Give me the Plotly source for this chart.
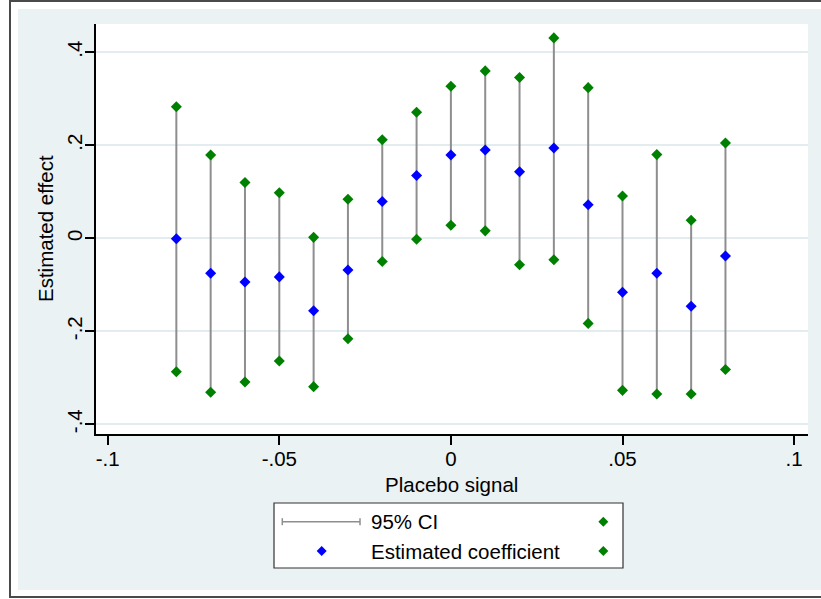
import plotly.graph_objects as go

# ---- data ----
placebo_signal = [-0.08, -0.07, -0.06, -0.05, -0.04, -0.03, -0.02, -0.01, 0.0,
                  0.01, 0.02, 0.03, 0.04, 0.05, 0.06, 0.07, 0.08]
estimated_coef = [-0.001, -0.075, -0.094, -0.083, -0.156, -0.068, 0.079, 0.135, 0.179,
                  0.190, 0.143, 0.194, 0.072, -0.116, -0.075, -0.146, -0.038]
ci_upper = [0.283, 0.179, 0.120, 0.098, 0.002, 0.084, 0.212, 0.271, 0.327,
            0.360, 0.346, 0.431, 0.324, 0.091, 0.180, 0.039, 0.205]
ci_lower = [-0.287, -0.331, -0.309, -0.264, -0.319, -0.216, -0.050, -0.002, 0.028,
            0.016, -0.057, -0.046, -0.183, -0.327, -0.335, -0.335, -0.282]

x_tick_vals = [-0.1, -0.05, 0.0, 0.05, 0.1]
x_tick_text = ["-.1", "-.05", "0", ".05", ".1"]
y_tick_vals = [-0.4, -0.2, 0.0, 0.2, 0.4]
y_tick_text = ["-.4", "-.2", "0", ".2", ".4"]

x_title = "Placebo signal"
y_title = "Estimated effect"
legend_labels = ["95% CI", "Estimated coefficient"]

# ---- styling ----
W, H = 821, 599
FONT = "Liberation Sans, Arial, sans-serif"
FS = 20.5
BG = "#EAF2F3"
GRID = "#E3ECEF"
CI_COLOR = "#8E8E8E"
GREEN = "#008000"
BLUE = "#0000FF"


def px(x):
    return x / W


def py(y):
    return 1 - y / H


# plot area in pixels
L, R, T, B = 95.7, 808, 24, 434

fig = go.Figure()

ci_x, ci_y = [], []
for xv, lo, hi in zip(placebo_signal, ci_lower, ci_upper):
    ci_x += [xv, xv, None]
    ci_y += [lo, hi, None]

fig.add_trace(go.Scatter(x=ci_x, y=ci_y, mode="lines",
                         line=dict(color=CI_COLOR, width=2),
                         hoverinfo="skip", showlegend=False))
fig.add_trace(go.Scatter(x=placebo_signal + placebo_signal, y=ci_upper + ci_lower,
                         mode="markers",
                         marker=dict(symbol="diamond", size=8.5, color=GREEN),
                         showlegend=False))
fig.add_trace(go.Scatter(x=placebo_signal, y=estimated_coef, mode="markers",
                         marker=dict(symbol="diamond", size=8.5, color=BLUE),
                         showlegend=False))

shapes = []
# outer frame
shapes.append(dict(type="rect", xref="paper", yref="paper", layer="below",
                   x0=px(10), x1=px(W + 5), y0=py(597), y1=py(1),
                   line=dict(color="#4a4a4a", width=2), fillcolor="white"))
# graph region
shapes.append(dict(type="rect", xref="paper", yref="paper", layer="below",
                   x0=px(18), x1=px(W + 5), y0=py(590), y1=py(9),
                   line=dict(width=0), fillcolor=BG))
# plot region
shapes.append(dict(type="rect", xref="paper", yref="paper", layer="below",
                   x0=px(L), x1=px(R), y0=py(B), y1=py(T),
                   line=dict(width=0), fillcolor="white"))
# legend box
shapes.append(dict(type="rect", xref="paper", yref="paper", layer="above",
                   x0=px(274), x1=px(623), y0=py(568), y1=py(503),
                   line=dict(color="#333333", width=1.2), fillcolor="white"))
# legend CI key
row1, row2 = 521.7, 551
shapes.append(dict(type="line", xref="paper", yref="paper",
                   x0=px(282.3), x1=px(360), y0=py(row1), y1=py(row1),
                   line=dict(color=CI_COLOR, width=1.5)))
for cx in (282.3, 360):
    shapes.append(dict(type="line", xref="paper", yref="paper",
                       x0=px(cx), x1=px(cx), y0=py(row1 - 3.5), y1=py(row1 + 3.5),
                       line=dict(color=CI_COLOR, width=1.5)))


def diamond(cx, cy, r, color):
    return dict(type="path", xref="paper", yref="paper",
                xsizemode="pixel", ysizemode="pixel",
                xanchor=px(cx), yanchor=py(cy),
                path=f"M 0,{r} L {r},0 L 0,{-r} L {-r},0 Z",
                fillcolor=color, line=dict(width=0))


shapes.append(diamond(603.3, row1, 5, GREEN))
shapes.append(diamond(603.3, row2, 5, GREEN))
shapes.append(diamond(321.7, row2, 5, BLUE))

annotations = [
    dict(text=x_title, x=px(451), y=py(484), xref="paper", yref="paper",
         showarrow=False, xanchor="center", yanchor="middle",
         font=dict(family=FONT, size=FS, color="black")),
    dict(text=y_title, x=px(45), y=py(229), xref="paper", yref="paper",
         showarrow=False, xanchor="center", yanchor="middle", textangle=-90,
         font=dict(family=FONT, size=FS, color="black")),
    dict(text=legend_labels[0], x=px(369), y=py(row1), xref="paper", yref="paper",
         showarrow=False, xanchor="left", yanchor="middle",
         font=dict(family=FONT, size=FS, color="black")),
    dict(text=legend_labels[1], x=px(369), y=py(row2), xref="paper", yref="paper",
         showarrow=False, xanchor="left", yanchor="middle",
         font=dict(family=FONT, size=FS, color="black")),
]

x_lo = -0.1 - (107.7 - L) / 3432
x_hi = 0.1 + (R - 794.1) / 3432
y_hi = (238.3 - T) / 465
y_lo = -(B - 238.3) / 465

fig.update_layout(
    width=W, height=H,
    margin=dict(l=0, r=0, t=0, b=0),
    paper_bgcolor="white",
    plot_bgcolor="rgba(0,0,0,0)",
    showlegend=False,
    font=dict(family=FONT, size=FS, color="black"),
    shapes=shapes,
    annotations=annotations,
    xaxis=dict(domain=[px(L), px(R)], range=[x_lo, x_hi],
               tickvals=x_tick_vals, ticktext=x_tick_text,
               ticks="outside", ticklen=9, tickwidth=1.5, tickcolor="black",
               showline=True, linecolor="black", linewidth=1.5,
               showgrid=False, zeroline=False, ticklabelstandoff=-3,
               tickfont=dict(family=FONT, size=FS, color="black")),
    yaxis=dict(domain=[py(B), py(T)], range=[y_lo, y_hi],
               tickvals=y_tick_vals, ticktext=y_tick_text, tickangle=-90,
               ticks="outside", ticklen=9, tickwidth=1.5, tickcolor="black",
               showline=True, linecolor="black", linewidth=1.5,
               showgrid=True, gridcolor=GRID, gridwidth=1.5, zeroline=False,
               ticklabelstandoff=-5,
               tickfont=dict(family=FONT, size=FS, color="black")),
)

fig.write_html("out.html",
               config={"displayModeBar": False},
               post_script="document.body.style.margin='0px';"
                           "document.body.style.overflow='hidden';")
